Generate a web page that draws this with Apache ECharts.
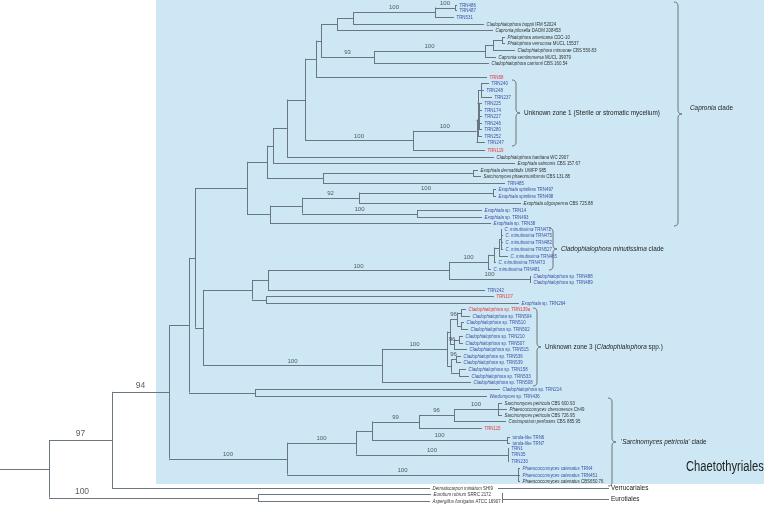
<!DOCTYPE html>
<html><head><meta charset="utf-8">
<script src="https://cdn.jsdelivr.net/npm/echarts@6/dist/echarts.min.js"></script>
<style>html,body{margin:0;padding:0;background:#fff}#c{width:764px;height:506px}</style>
</head><body><div id="c"></div><script>
// ---- leaves (tree tips), top to bottom ----
const leafNames = [
 'TRN486','TRN487','TRN531','Cladophialophora boppii IFM 52024','Capronia pilosella DAOM 208453',
 'Phialophora americana CDC-10','Phialophora verrucosa MUCL 15537','Cladophialophora minourae CBS 556.83',
 'Capronia semiimmersa MUCL 39979','Cladophialophora carrionii CBS 160.54','TRN88',
 'TRN240','TRN248','TRN237','TRN225','TRN174','TRN227','TRN246','TRN280','TRN252','TRN247','TRN119',
 'Cladophialophora bantiana WC 2907','Exophiala salmonis CBS 157.67','Exophiala dermatitidis UWFP 985',
 'Sarcinomyces phaeomuriformis CBS 131.88','TRN485','Exophiala spinifera TRN497','Exophiala spinifera TRN498',
 'Exophiala oligosperma CBS 725.88','Exophiala sp. TRN14','Exophiala sp. TRN493','Exophiala sp. TRN38',
 'C. minutissima TRN472','C. minutissima TRN475','C. minutissima TRN482','C. minutissima TRN527',
 'C. minutissima TRN465','C. minutissima TRN473','C. minutissima TRN481',
 'Cladophialophora sp. TRN488','Cladophialophora sp. TRN489','TRN242','TRN107','Exophiala sp. TRN264',
 'Cladophialophora sp. TRN139a','Cladophialophora sp. TRN504','Cladophialophora sp. TRN510',
 'Cladophialophora sp. TRN502','Cladophialophora sp. TRN210','Cladophialophora sp. TRN507',
 'Cladophialophora sp. TRN515','Cladophialophora sp. TRN536','Cladophialophora sp. TRN539',
 'Cladophialophora sp. TRN158','Cladophialophora sp. TRN533','Cladophialophora sp. TRN508',
 'Cladophialophora sp. TRN214','Wardomyces sp. TRN436','Sarcinomyces petricola CBS 600.93',
 'Phaeococcomyces chersonesos Ch49','Sarcinomyces petricola CBS 726.95','Coniosporium perforans CBS 885.95',
 'TRN115','torula-like TRN6','torula-like TRN7','TRN1','TRN35','TRN230',
 'Phaeococcomyces catenatus TRN4','Phaeococcomyces catenatus TRN451','Phaeococcomyces catenatus CBS650.76',
 'Dermatocarpon miniatum SHI9','Eurotium rubrum SRRC 2172','Aspergillus fumigatus ATCC 16907'
];
const leafY = [5,10,17,24,30,37,43,50,57,63,77,83,90,97,103,110,116,123,129,136,142,150,157,163,170,176,183,189,196,203,
 210,217,223,229,235,242,249,256,262,269,276,282,290,296,303,309,316,322,329,336,343,349,356,362,369,376,382,389,396,
 403,409,415,421,428,437,443,448,454,461,468,475,481,488,494,501];
const leafTipX = [457,457,454,484,493,505,505,515,496,489,487,489,484,492,482,482,482,482,482,482,485,485,494,515,478,481,
 505,496,496,521,482,482,491,502,503,503,503,508,496,491,531,531,485,494,519,466,470,464,468,463,463,467,461,461,466,469,
 471,500,487,502,507,502,506,482,510,510,509,509,509,520,520,520,430,431,430];
const leafGroup = ['b','b','b','k','k','k','k','k','k','k','r','b','b','b','b','b','b','b','b','b','b','r','k','k','k','k',
 'b','b','b','k','b','b','b','b','b','b','b','b','b','b','b','b','b','r','b','r','b','b','b','b','b','b','b','b','b','b',
 'b','b','b','k','k','k','k','r','b','b','b','b','b','b','b','k','k','k','k'];

// ---- internal nodes (children listed first) ----
const nodeIds = ['a455','a435','a353','a337','a502','a493','a485','a374','a321','a316',
 'c1','c2','c3','c4','c5','d413','d305','d287','d273','d473','d323','d267',
 'e493','e359','e417','e302','e270','e247','f501','f499','f494','f488','f530','f449','f268','f266','f252',
 'g461','g462','g457','g458','g454','g449','g457b','g462b','g450','g447','g382','h203','h195','h255','h189',
 'i498','i454','i419','i507','i372','i510','i356','i518','i287','j169','j112','j258','j49'];
const nodeX = [455,435,353,337,502,493,485,374,321,316,
 481,479,478,477.5,476.5,413,305,287,273,473,323,267,
 493,359,417,302,270,247,501,499,494,488,530,449,268,266,252,
 461,461,457,459,454,450,456,459,451,447,382,203,195,255,189,
 498,454,419,507,372,508,356,518,287,169,112,258,49];
const nodeKids = [[0,1],['a455',2],['a435',3],['a353',4],[5,6],['a502',7],['a493',8],['a485',9],['a337','a374'],['a321',10],
 [11,12,13],[14,15,16,17,18],['c1','c2'],['c3',19],['c4',20],['c5',21],['a316','d413'],['d305',22],['d287',23],[24,25],['d473',26],['d273','d323'],
 [27,28],['e493',29],[30,31],['e359','e417'],['e302',32],['d267','e270'],[33,34,35,36],['f501',37],['f499',38],['f494',39],[40,41],['f488','f530'],['f449',42],[43,44],['f268','f266'],
 [45,46],[47,48],['g461','g462'],[49,50],['g458',51],['g457','g454'],[52,53],[54,55],['g457b','g462b'],['g449','g450'],['g447',56],['f252','g382'],['e247','h203'],[57,58],['h195','h255'],
 [59,60,61],['i498',62],['i454',63],[64,65],['i419','i507'],[66,67,68],['i372','i510'],[69,70,71],['i356','i518'],['h189','i287'],['j169',72],[73,74],['j112','j258']];
const nodeSupport = ['100','100','','','','','100','93','','',
 '','','','','100','100','','','','','','',
 '100','92','100','','','','','','','100','100','100','','','',
 '','','96','','96','','96','','','100','100','','','','',
 '100','96','99','100','','100','100','100','100','94','97','100',''];

// ---- clade annotations ----
const cladeNames = ['zone1','capronia','minut','zone3','sarc'];
const cladeTexts = ['Unknown zone 1 (Sterile or stromatic mycelium)','{i|Capronia} clade','{i|Cladophialophora minutissima} clade',
 'Unknown zone 3 ({i|Cladophialophora} spp.)',"'{i|Sarcinomyces petricola}' clade"];
const orderNames = ['Chaetothyriales','Verrucariales','Eurotiales'];

const FONT = "'Liberation Sans Narrow','Arial Narrow','Liberation Sans',sans-serif";
const COLORS = {b:'#3d4fa6', r:'#e8383d', k:'#333333'};
const LINE = '#6a7780';
const NARROW = 0.8;   // horizontal squeeze to mimic a condensed typeface

// build tree geometry from the arrays
const pos = {}, parentX = {};
leafNames.forEach((n,i)=>{pos[i]={x:leafTipX[i], y:leafY[i]};});
const segs = [];
nodeIds.forEach((id,k)=>{
  const kids = nodeKids[k].map(c=>pos[c]);
  const y = (kids[0].y + kids[kids.length-1].y)/2;
  pos[id] = {x:nodeX[k], y:y};
  segs.push([nodeX[k], kids[0].y, nodeX[k], kids[kids.length-1].y]);
  nodeKids[k].forEach(c=>{parentX[c]=nodeX[k]; segs.push([nodeX[k], pos[c].y, pos[c].x, pos[c].y]);});
});
const root = pos['j49'];
segs.push([0, root.y, root.x, root.y]);
// outgroup order pointers
segs.push([498,488,609,488]);
segs.push([502,493,502,503]);
segs.push([502,498.5,609,498.5]);

const supShift = {j258: 33};  // label drawn near start of this long branch
const supData = [];
nodeIds.forEach((id,k)=>{
  if(nodeSupport[k]==='') return;
  const big = (id==='j169'||id==='j112'||id==='j258');
  const lx = supShift[id] ? parentX[id] + supShift[id] : (parentX[id]+nodeX[k])/2;
  supData.push({value:[lx, pos[id].y], label:{formatter:nodeSupport[k], fontSize: big?8.5:6}});
});

function splitName(n){
  const t = n.split(' '); let k=0;
  while(k<t.length && /^([A-Z]\.|[A-Z][a-z]+|[a-z]+)$/.test(t[k])) k++;
  return [t.slice(0,k).join(' '), t.slice(k).join(' ')];
}
const LEAF_FS = 5.5;
const rich = {};
Object.keys(COLORS).forEach(g=>{
  rich['i'+g] = {fontStyle:'italic', fill:COLORS[g], fontSize:LEAF_FS, fontFamily:FONT};
  rich['n'+g] = {fill:COLORS[g], fontSize:LEAF_FS, fontFamily:FONT};
});
const leafText = leafNames.map((n,i)=>{
  const s = splitName(n), g = leafGroup[i];
  let txt = '';
  if(s[0]) txt += '{i'+g+'|'+s[0]+'}';
  if(s[0] && s[1]) txt += '{n'+g+'| }';
  if(s[1]) txt += '{n'+g+'|'+s[1]+'}';
  return txt;
});

// brace geometry: [x, yTop, yBottom, width]
const braces = [[512,80,146,8],[674,2,226,8],[549,228,270,8],[533,308,386,8],[608,398,486,8]];
const cladeLabelPos = [[524,113],[690,108],[561,249],[545,347],[621,442]];
const orderLabelPos = [[686,467],[611,488],[611,499]];
const orderFS = [14,8,8];

function q(p0,p1,p2,n,out){for(let i=1;i<=n;i++){const t=i/n,a=(1-t)*(1-t),b=2*(1-t)*t,c=t*t;out.push([a*p0[0]+b*p1[0]+c*p2[0],a*p0[1]+b*p1[1]+c*p2[1]]);}}

function textItem(api, txt, fs, richStyles, fill){
  const p = api.coord([api.value(0), api.value(1)]);
  return {type:'text', x:p[0], y:p[1], scaleX:NARROW, scaleY:1,
    style:{text:txt, fontSize:fs, fontFamily:FONT, fill:fill||'#222', rich:richStyles||{},
      align:'left', verticalAlign:'middle'}};
}

const chart = echarts.init(document.getElementById('c'));
chart.setOption({
  animation:false,
  grid:{left:0,right:0,top:0,bottom:0},
  xAxis:{type:'value',min:0,max:764,show:false},
  yAxis:{type:'value',min:0,max:506,inverse:true,show:false},
  series:[
    {type:'custom', silent:true, z:0, data:[[156,0,764,484]],
     renderItem:(p,api)=>{const a=api.coord([api.value(0),api.value(1)]),b=api.coord([api.value(2),api.value(3)]);
       return {type:'rect',shape:{x:a[0],y:a[1],width:b[0]-a[0],height:b[1]-a[1]},style:{fill:'#cde8f4'}};}},
    {type:'custom', silent:true, z:2, data:segs, encode:{x:[0,2],y:[1,3]},
     renderItem:(p,api)=>{const a=api.coord([api.value(0),api.value(1)]),b=api.coord([api.value(2),api.value(3)]);
       const r=v=>Math.round(v)+0.5;
       let x1=a[0],y1=a[1],x2=b[0],y2=b[1];
       if(y1===y2){y1=y2=r(y1);} else {x1=x2=r(x1);}
       return {type:'line',shape:{x1,y1,x2,y2},style:{stroke:LINE,lineWidth:1}};}},
    {type:'custom', silent:true, z:2, data:braces,
     renderItem:(p,api)=>{
       const x=api.value(0),y1=api.value(1),y2=api.value(2),w=api.value(3),ym=(y1+y2)/2,h=w/2,rr=4;
       const pts=[[x,y1]];
       q([x,y1],[x+h,y1],[x+h,y1+rr],6,pts);
       pts.push([x+h,ym-rr]);
       q([x+h,ym-rr],[x+h,ym],[x+w,ym],6,pts);
       q([x+w,ym],[x+h,ym],[x+h,ym+rr],6,pts);
       pts.push([x+h,y2-rr]);
       q([x+h,y2-rr],[x+h,y2],[x,y2],6,pts);
       return {type:'polyline',shape:{points:pts.map(pp=>api.coord(pp))},style:{stroke:'#555',lineWidth:0.8,fill:null}};}},
    // leaf labels
    {type:'custom', silent:true, z:3, data:leafNames.map((n,i)=>[leafTipX[i]+2.5, leafY[i], i]),
     renderItem:(p,api)=>textItem(api, leafText[api.value(2)], LEAF_FS, rich)},
    // support values
    {type:'scatter', silent:true, z:3, symbolSize:1, itemStyle:{color:'rgba(0,0,0,0)'}, data:supData,
     label:{show:true,position:'top',distance:1,color:'#333',fontFamily:FONT}},
    // clade labels
    {type:'custom', silent:true, z:3, data:cladeNames.map((n,i)=>[cladeLabelPos[i][0],cladeLabelPos[i][1],i]),
     renderItem:(p,api)=>textItem(api, cladeTexts[api.value(2)], 8,
       {i:{fontStyle:'italic',fontFamily:FONT,fontSize:8,fill:'#222'}})},
    // order labels
    {type:'custom', silent:true, z:3, data:orderNames.map((n,i)=>[orderLabelPos[i][0],orderLabelPos[i][1],i]),
     renderItem:(p,api)=>textItem(api, orderNames[api.value(2)], orderFS[api.value(2)])}
  ]
});
</script></body></html>
